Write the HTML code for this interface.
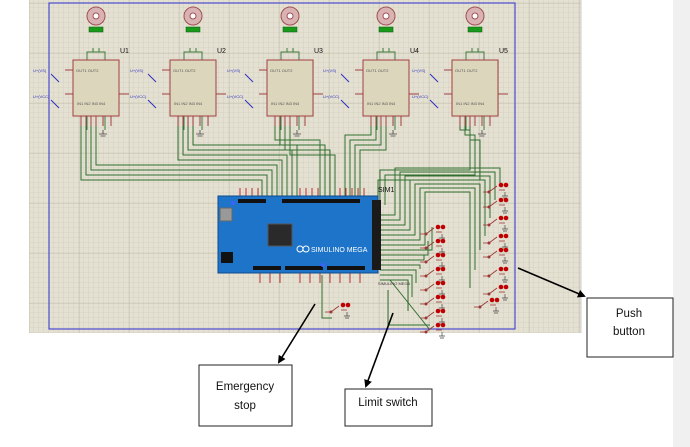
<!DOCTYPE html>
<html><head><meta charset="utf-8"><style>
html,body{margin:0;padding:0;background:#fff;width:690px;height:447px;overflow:hidden}
svg{display:block}
.lbl{font-family:"Liberation Sans",sans-serif}
</style></head><body>
<svg width="690" height="447" viewBox="0 0 690 447" xmlns="http://www.w3.org/2000/svg">
<defs>
<pattern id="g" width="5" height="5" patternUnits="userSpaceOnUse">
<rect width="5" height="5" fill="#e4e1d2"/>
<path d="M5 0V5H0" fill="none" stroke="#cbc7b6" stroke-width="0.6"/>
</pattern>
<pattern id="G" width="50" height="50" patternUnits="userSpaceOnUse" x="29" y="3">
<rect width="50" height="50" fill="url(#g)"/>
<path d="M0 0V50M0 0H50" fill="none" stroke="#b9b5a2" stroke-width="0.8"/>
</pattern>
<marker id="ah" markerWidth="8" markerHeight="8" refX="6" refY="4" orient="auto" markerUnits="userSpaceOnUse">
<path d="M0 0L8 4L0 8z" fill="#000"/>
</marker>
<g id="mod">
<path d="M14 70V-8H32V70M20 -8V-12M26 -8V-12" fill="none" stroke="#3d7a3d" stroke-width="1"/>
<path d="M10 48V20H38V48" fill="none" stroke="#3d7a3d" stroke-width="1"/>
<circle cx="23" cy="-44" r="9" fill="#d9b3b3" stroke="#a05050"/>
<circle cx="23" cy="-44" r="3" fill="#fff" stroke="#a05050"/>
<rect x="16" y="-33" width="14" height="5" fill="#1a9a1a" stroke="#0a5a0a" stroke-width="0.5"/>
<rect x="0" y="0" width="46" height="56" fill="#dcd6bc" stroke="#a04040" stroke-width="1"/>
<path d="M-8 10H0M-8 34H0M46 34H56M8 56V66M13 56V66M18 56V66M23 56V66M30 56V66M38 56V66" stroke="#a04040" stroke-width="1"/>
<text x="4" y="45" font-size="4" fill="#555" class="lbl">IN1 IN2 IN3 IN4</text>
<text x="3" y="12" font-size="4" fill="#555" class="lbl">OUT1 OUT2</text>
<path d="M-22 14L-14 22M-22 40L-14 48" stroke="#3030c0" stroke-width="1"/>
<text x="-40" y="12" font-size="4" fill="#3030c0" class="lbl">U+(VS)</text>
<text x="-40" y="38" font-size="4" fill="#3030c0" class="lbl">U+(VCC)</text>
<path d="M30 70V74M26 74H34M27.5 76H32.5" stroke="#444" stroke-width="0.8"/>
</g>
<g id="sw">
<path d="M-12 4H-6L2 -2M4 2H10" stroke="#9a3030" stroke-width="0.8" fill="none"/>
<circle cx="-6" cy="4" r="1" fill="none" stroke="#9a3030"/>
<circle cx="6" cy="-3" r="2.3" fill="#c00000"/><circle cx="11" cy="-3" r="2.3" fill="#c00000"/>
<path d="M10 4V8M7 8H13M8 10H12" stroke="#444" stroke-width="0.7"/>
</g>
</defs>
<rect x="29" y="0" width="552" height="333" fill="url(#G)"/>
<rect x="673" y="0" width="17" height="447" fill="#f0f0f0"/>
<rect x="49" y="3" width="466" height="326" fill="none" stroke="#4a4ad0" stroke-width="1.2"/>
<path d="M581 0V333" stroke="#cfcfcf"/>

<!-- wires from modules to arduino -->
<g fill="none" stroke="#2f6e2f" stroke-width="1">
<path d="M81 125V180H262V196M86 125V175H267V196M91 125V170H272V196M96 125V165H277V196"/>
<path d="M178 125V160H282V196M183 125V155H287V196M188 125V150H292V196M193 125V145H297V196"/>
<path d="M275 125V140H320V196M280 125V145H325V196M285 125V150H330V196M290 125V155H335V196"/>
<path d="M371 125V135H345V196M376 125V140H350V196M381 125V145H355V196M386 125V150H360V196"/>
<path d="M460 125V130H470V170H380V200M465 125V135H475V175H385V205M470 125V140H480V180H378V210"/>
<path d="M380 215H395V168H500V185M380 220H400V172H495V200M380 225H405V176H490V218M380 230H410V180H485V236M380 235H415V184H480V250M380 240H420V188H475V270M380 245H425V192H470V288"/>
<path d="M380 250H432V227M380 255H428V241M380 260H424V255M380 265H420V269M380 270H416V283M380 275H412V297M380 280H408V311M388 290V325H430"/>
<path d="M390 280L430 330M322 275V318H332"/>
</g>
<use href="#mod" x="73" y="60"/>
<use href="#mod" x="170" y="60"/>
<use href="#mod" x="267" y="60"/>
<use href="#mod" x="363" y="60"/>
<use href="#mod" x="452" y="60"/>
<g class="lbl" font-size="7" fill="#111">
<text x="120" y="53">U1</text><text x="217" y="53">U2</text><text x="314" y="53">U3</text><text x="410" y="53">U4</text><text x="499" y="53">U5</text>
<text x="378" y="192">SIM1</text>
</g>
<!-- Arduino -->
<g>
<path d="M240 196V188M246 196V188M252 196V188M258 196V188M300 196V188M306 196V188M312 196V188M318 196V188M340 196V188M346 196V188M352 196V188M358 196V188M364 196V188M260 273V283M270 273V283M280 273V283M300 273V283M310 273V283M320 273V283M330 273V283M340 273V283M350 273V283M360 273V283" stroke="#c03030" stroke-width="1"/>
<rect x="218" y="196" width="160" height="77" fill="#1e74c9" stroke="#0f4a8a"/>
<rect x="372" y="200" width="9" height="70" fill="#1a1a1a"/>
<rect x="238" y="199" width="28" height="4" fill="#111"/><rect x="282" y="199" width="40" height="4" fill="#111"/><rect x="322" y="199" width="38" height="4" fill="#111"/>
<rect x="253" y="266" width="28" height="4" fill="#111"/><rect x="285" y="266" width="38" height="4" fill="#111"/><rect x="327" y="266" width="38" height="4" fill="#111"/>
<rect x="220" y="208" width="12" height="13" fill="#999" stroke="#666"/>
<rect x="221" y="252" width="12" height="11" fill="#111"/>
<rect x="268" y="224" width="24" height="22" fill="#2a2a2a" stroke="#555"/>
<circle cx="300" cy="249" r="3" fill="none" stroke="#fff"/><circle cx="306" cy="249" r="3" fill="none" stroke="#fff"/>
<text x="311" y="252" font-size="7" fill="#fff" class="lbl">SIMULINO MEGA</text>
<circle cx="233" cy="203" r="2" fill="#4060ff"/><circle cx="323" cy="265" r="2" fill="#4060ff"/>
<text x="378" y="285" font-size="4" fill="#333" class="lbl">SIMULINO MEGA</text>
</g>
<!-- switches -->
<use href="#sw" x="495" y="188"/><use href="#sw" x="495" y="203"/><use href="#sw" x="495" y="221"/><use href="#sw" x="495" y="239"/><use href="#sw" x="495" y="253"/><use href="#sw" x="495" y="272"/><use href="#sw" x="495" y="290"/>
<use href="#sw" x="432" y="230"/><use href="#sw" x="432" y="244"/><use href="#sw" x="432" y="258"/><use href="#sw" x="432" y="272"/><use href="#sw" x="432" y="286"/><use href="#sw" x="432" y="300"/><use href="#sw" x="432" y="314"/><use href="#sw" x="432" y="328"/>
<use href="#sw" x="486" y="303"/>
<use href="#sw" x="337" y="308"/>
<!-- callouts -->
<g stroke="#000" stroke-width="1.6" fill="none">
<path d="M315 304L279 362" marker-end="url(#ah)"/>
<path d="M393 313L366 386" marker-end="url(#ah)"/>
<path d="M518 268L584 296" marker-end="url(#ah)"/>
</g>
<g fill="#fff" stroke="#222" stroke-width="1">
<rect x="199" y="365" width="93" height="61"/>
<rect x="345" y="389" width="87" height="37"/>
<rect x="587" y="298" width="86" height="59"/>
</g>
<g class="lbl" font-size="11.5" fill="#111" text-anchor="middle">
<text x="245" y="390">Emergency</text><text x="245" y="409">stop</text>
<text x="388" y="406">Limit switch</text>
<text x="629" y="317">Push</text><text x="629" y="335">button</text>
</g>
</svg>
</body></html>
